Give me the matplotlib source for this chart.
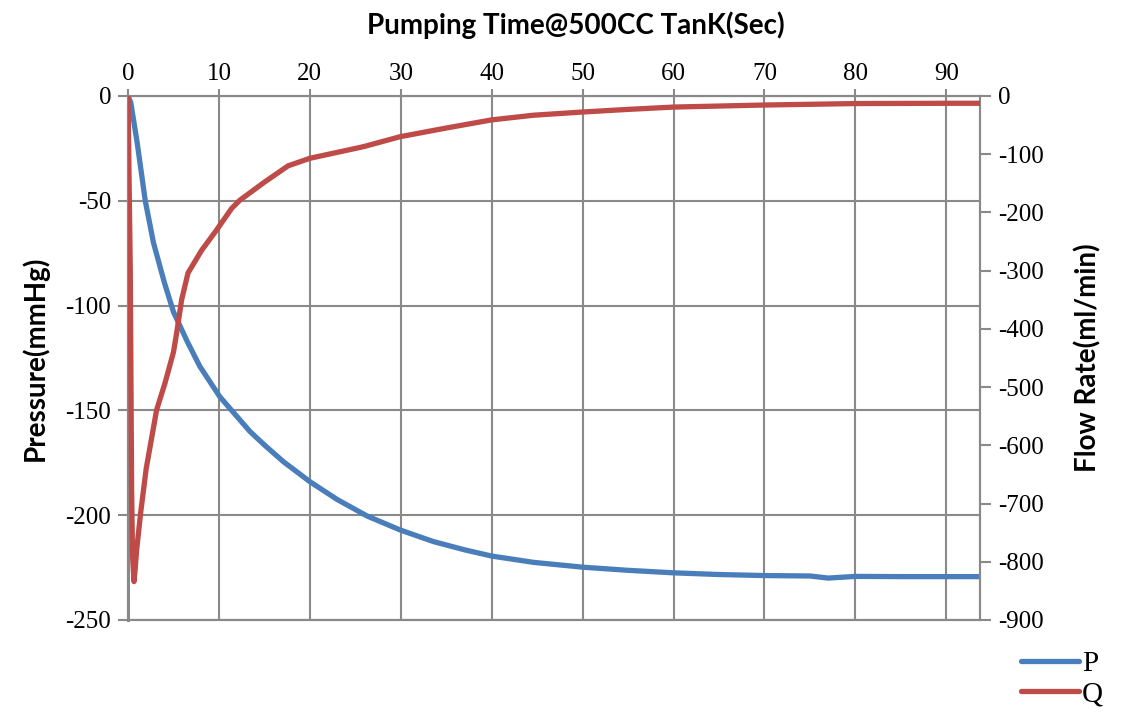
import matplotlib
matplotlib.use("Agg")
import matplotlib.pyplot as plt
from matplotlib.lines import Line2D

plt.rcParams["axes.unicode_minus"] = False

# ---- data ----
t_p = [0, 0.3, 1.0, 1.9, 2.8, 4.0, 5.0, 6.5, 7.9, 10.1, 12.3, 13.4, 15, 17.1, 20, 23,
       26.3, 29.9, 33.6, 37, 40, 44.6, 50, 55, 60, 65, 70, 75, 77, 80, 85, 90, 93.7]
p = [0, -3, -22, -50, -70, -89, -103, -117, -129, -143.5, -154.5, -160, -166.5, -174.5,
     -184, -192.5, -200.4, -207, -212.6, -216.5, -219.5, -222.5, -224.8, -226.3,
     -227.5, -228.3, -228.8, -229, -230, -229.2, -229.3, -229.3, -229.3]

t_q = [0, 0.25, 0.4, 0.5, 0.66, 0.8, 0.95, 1.39, 2.0, 3.15, 4.07, 5.0, 5.35, 5.9,
       6.6, 8.1, 9.75, 11.4, 12.3, 15, 17.6, 20, 25.9, 29.9, 35, 40, 44.6, 50,
       55, 60, 70, 80, 90, 93.7]
q = [0, -300, -680, -790, -834, -810, -780, -716, -640, -539, -493, -440, -407,
     -350, -304, -265, -230, -193, -179, -148, -120, -107, -87, -70, -55, -41,
     -33, -27.5, -23, -19, -15.5, -13, -12.5, -12.5]

x_ticks = [0, 10, 20, 30, 40, 50, 60, 70, 80, 90]
p_ticks = [0, -50, -100, -150, -200, -250]
q_ticks = [0, -100, -200, -300, -400, -500, -600, -700, -800, -900]

BLUE = "#4A7EBB"
RED = "#BE4B48"
GRID = "#898989"
serif = ["Liberation Serif", "DejaVu Serif"]
sans_bold = ["Lato", "DejaVu Sans"]

fig = plt.figure(figsize=(11.26, 7.17), dpi=100)
ax = fig.add_axes([128/1126, 1-620/717, (980-128)/1126, (620-96)/717])
ax2 = ax.twinx()

ax.plot(t_p, p, color=BLUE, lw=3.8, solid_capstyle="round", zorder=3)
ax2.plot(t_q, q, color=RED, lw=3.8, solid_capstyle="round", zorder=3)

ax.set_xlim(0, 93.7)
ax.set_ylim(-250, 0)
ax2.set_ylim(-900, 0)

ax.set_xticks(x_ticks)
ax.set_yticks(p_ticks)
ax2.set_yticks(q_ticks)

ax.xaxis.tick_top()
ax.grid(True, color=GRID, lw=1.5)
ax.set_axisbelow(True)
ax2.grid(False)

for a in (ax, ax2):
    for s in a.spines.values():
        s.set_color(GRID)
        s.set_linewidth(1.5)
ax.spines["left"].set_linewidth(2.2)

ax.tick_params(axis="x", direction="out", length=5, width=1.5, color=GRID,
               pad=3, labelsize=18)
ax.tick_params(axis="y", direction="out", length=7, width=1.5, color=GRID,
               pad=5, labelsize=18)
ax2.tick_params(axis="y", direction="out", length=8, width=1.5, color=GRID,
                pad=5, labelsize=18)
for lab in ax.get_xticklabels() + ax.get_yticklabels() + ax2.get_yticklabels():
    lab.set_fontfamily(serif)

ax.set_ylabel("Pressure(mmHg)", family=sans_bold, fontweight="bold", fontsize=20,
              labelpad=12)
ax2.set_ylabel("Flow Rate(ml/min)", family=sans_bold, fontweight="bold", fontsize=20,
               labelpad=22)
fig.text(576/1126, 1-25/717, "Pumping Time@500CC TanK(Sec)", family=sans_bold,
         fontweight="bold", fontsize=20, ha="center", va="center")

handles = [Line2D([], [], color=BLUE, lw=3.8, solid_capstyle="round"),
           Line2D([], [], color=RED, lw=3.8, solid_capstyle="round")]
fig.legend(handles, ["P", "Q"], loc="center", bbox_to_anchor=(1062/1126, 1-679/717),
           frameon=False, prop={"family": serif, "size": 21}, handlelength=2.0,
           handletextpad=0.1, labelspacing=0.15)

fig.savefig("out.png", dpi=100)
